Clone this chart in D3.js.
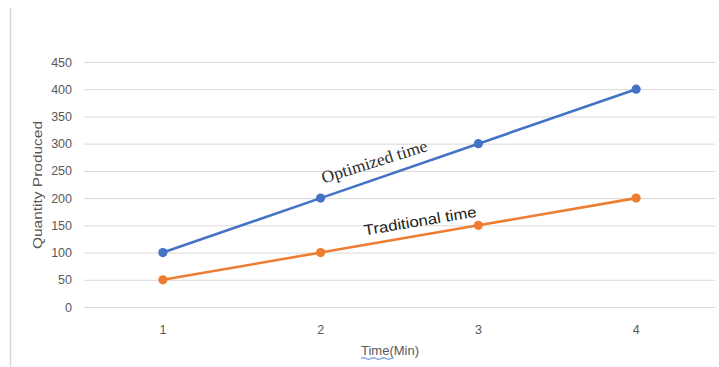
<!DOCTYPE html>
<html><head><meta charset="utf-8">
<script src="https://cdn.jsdelivr.net/npm/d3@7"></script>
<style>body{margin:0;background:#fff}svg{display:block}</style>
</head><body>
<svg id="c" width="719" height="367"></svg>
<script>
const categories = ["1","2","3","4"];
const optimized = [100,200,300,400];
const traditional = [50,100,150,200];
const yTicks = [0,50,100,150,200,250,300,350,400,450];

const svg = d3.select("#c");
const L = 84, R = 715, T = 62, B = 307;
const x = d3.scalePoint().domain(categories).range([L, R]).padding(0.5);
const y = d3.scaleLinear().domain([0,450]).range([B, T]);
const SANS = "'Liberation Sans', Arial, sans-serif";

// left border line
svg.append("line").attr("x1",10.5).attr("x2",10.5).attr("y1",8).attr("y2",367)
  .attr("stroke","#d9d9d9").attr("stroke-width",1.5);

// gridlines
svg.append("g").selectAll("line").data(yTicks).join("line")
  .attr("x1",L).attr("x2",R).attr("y1",d=>y(d)+0.5).attr("y2",d=>y(d)+0.5)
  .attr("stroke","#d9d9d9").attr("stroke-width",1);

// y tick labels
svg.append("g").selectAll("text").data(yTicks).join("text")
  .attr("x",72).attr("y",d=>y(d)).attr("dy","0.36em").attr("text-anchor","end")
  .attr("font-family",SANS).attr("font-size",12.5)
  .attr("fill","#595959").text(d=>d);

// x tick labels
svg.append("g").selectAll("text").data(categories).join("text")
  .attr("x",d=>x(d)).attr("y",334).attr("text-anchor","middle")
  .attr("font-family",SANS).attr("font-size",12.5)
  .attr("fill","#595959").text(d=>d);

// axis titles
svg.append("text").attr("transform","translate(42,185) rotate(-90)")
  .attr("text-anchor","middle").attr("font-family",SANS)
  .attr("font-size",13).attr("fill","#595959")
  .attr("textLength",128).attr("lengthAdjust","spacingAndGlyphs").text("Quantity Produced");
svg.append("text").attr("x",390).attr("y",355).attr("text-anchor","middle")
  .attr("font-family",SANS)
  .attr("font-size",13).attr("fill","#595959")
  .attr("textLength",58).attr("lengthAdjust","spacingAndGlyphs").text("Time(Min)");
// spell-check style underline under "Time"
svg.append("path").attr("d","M361,358.5 q2.5,-1.5 5,0 t5,0 t5,0 t5,0 t5,0 t5,0 t2,0")
  .attr("fill","none").attr("stroke","#7ea6e0").attr("stroke-width",1.3);

function series(data, color){
  const pts = categories.map((c,i)=>[x(c), y(data[i])]);
  svg.append("path").datum(pts).attr("d", d3.line())
    .attr("fill","none").attr("stroke",color).attr("stroke-width",2.6);
  svg.append("g").selectAll("circle").data(pts).join("circle")
    .attr("cx",d=>d[0]).attr("cy",d=>d[1]).attr("r",4.6).attr("fill",color);
}
series(optimized, "#4472C4");
series(traditional, "#ED7D31");

// annotations
svg.append("text").attr("transform","translate(376,167) rotate(-17.4)")
  .attr("text-anchor","middle").attr("font-family","'Liberation Serif', 'DejaVu Serif', serif")
  .attr("font-size",17).attr("fill","#2b2b2b")
  .attr("textLength",110).attr("lengthAdjust","spacingAndGlyphs").text("Optimized time");
svg.append("text").attr("transform","translate(421,226) rotate(-9.5)")
  .attr("text-anchor","middle").attr("font-family",SANS)
  .attr("font-size",15).attr("fill","#222")
  .attr("textLength",114).attr("lengthAdjust","spacingAndGlyphs").text("Traditional time");
</script>
</body></html>
